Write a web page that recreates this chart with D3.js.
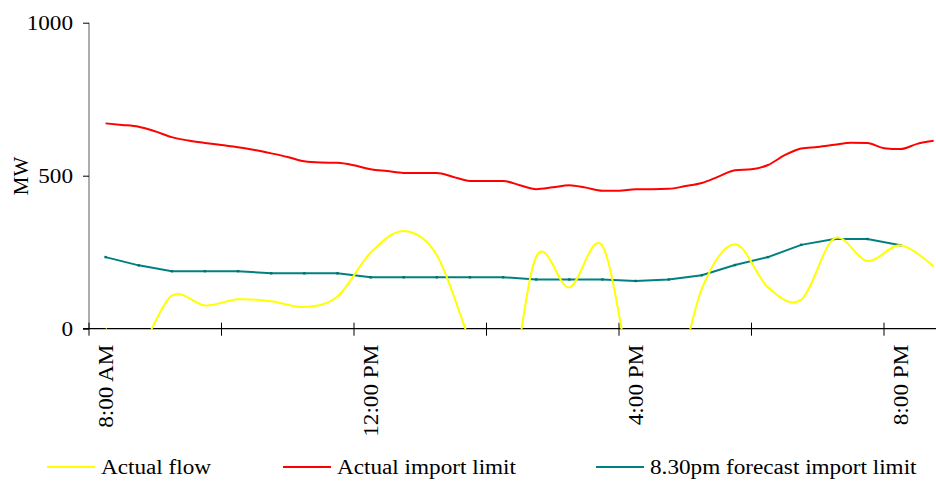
<!DOCTYPE html>
<html>
<head>
<meta charset="utf-8">
<script src="https://cdn.jsdelivr.net/npm/d3@7/dist/d3.min.js"></script>
<style>
  html, body { margin: 0; padding: 0; background: #ffffff; }
  svg { display: block; }
  text { font-family: "Liberation Serif", "Times New Roman", serif; fill: #000; }
</style>
</head>
<body>
<svg id="chart" width="936" height="485"></svg>
<script>
// ---------- DATA ----------
const halfHourTimes = ["08:00","08:30","09:00","09:30","10:00","10:30","11:00","11:30","12:00","12:30","13:00","13:30","14:00","14:30","15:00","15:30","16:00","16:30","17:00","17:30","18:00","18:30","19:00","19:30","20:00","20:30"];
const quarterHourTimes = ["08:00","08:15","08:30","08:45","09:00","09:15","09:30","09:45","10:00","10:15","10:30","10:45","11:00","11:15","11:30","11:45","12:00","12:15","12:30","12:45","13:00","13:15","13:30","13:45","14:00","14:15","14:30","14:45","15:00","15:15","15:30","15:45","16:00","16:15","16:30","16:45","17:00","17:15","17:30","17:45","18:00","18:15","18:30","18:45","19:00","19:15","19:30","19:45","20:00","20:15","20:30"];

// Actual flow (MW), half-hourly
const actualFlow = [0, -60, 108, 76, 96, 90, 71, 105, 248, 319, 240, -40, -300, 235, 135, 270, -200, -250, 130, 276, 135, 95, 295, 221, 273, 203];
// Actual import limit (MW), quarter-hourly
const actualImportLimit = [671, 666, 660, 645, 626, 615, 607, 600, 593, 584, 573, 561, 547, 543, 542, 534, 521, 515, 509, 509, 509, 496, 483, 483, 483, 469, 456, 462, 469, 461, 451, 451, 456, 456, 457, 466, 476, 497, 518, 521, 535, 567, 589, 594, 601, 608, 607, 590, 587, 604, 614];
// 8.30pm forecast import limit (MW), half-hourly
const forecastImportLimit = [234, 207, 188, 188, 188, 181, 181, 181, 168, 168, 168, 168, 168, 161, 161, 161, 156, 161, 175, 208, 234, 274, 293, 293, 273, null];

const yTicks = [0, 500, 1000];
const xTickLabels = ["8:00 AM", "12:00 PM", "4:00 PM", "8:00 PM"];
const xTickLabelTimes = ["08:00", "12:00", "16:00", "20:00"];
const xTickMarkTimes = ["07:45", "09:45", "11:45", "13:45", "15:45", "17:45", "19:45", "21:45"];

const seriesNames = ["Actual flow", "Actual import limit", "8.30pm forecast import limit"];
const seriesColors = ["#FFFF00", "#FF0000", "#008080"];

// ---------- HELPERS ----------
const toHours = s => { const [h, m] = s.split(":").map(Number); return h + m / 60; };
const STRETCH = 1.16; // reference glyphs are horizontally widened

// ---------- SCALES ----------
const svg = d3.select("#chart");
const x = d3.scaleLinear().domain([toHours("07:45"), toHours("20:45")]).range([89, 950.25]);
const y = d3.scaleLinear().domain([0, 1000]).range([328.7, 22.7]);

svg.append("rect").attr("width", 936).attr("height", 485).attr("fill", "#fff");

// ---------- AXES ----------
const yAxis = svg.append("g").attr("transform", `translate(${x.range()[0]},0)`)
  .call(d3.axisLeft(y).tickValues(yTicks).tickSize(6).tickPadding(10).tickFormat(d3.format("d")));
yAxis.select(".domain").attr("stroke", "#808080").attr("stroke-width", 1.3).attr("d", `M0,${y(1000)}V${y(0)}`);
yAxis.selectAll(".tick line").attr("stroke", "#000").attr("stroke-width", 1);
yAxis.selectAll(".tick text").attr("font-size", 20).attr("font-family", "Liberation Serif")
  .attr("x", 0).attr("dy", "0.35em").attr("transform", `translate(-16,0) scale(${STRETCH},1)`);

const xAxisG = svg.append("g").attr("transform", `translate(0,${y(0)})`);
xAxisG.append("line").attr("x1", x.range()[0] - 6).attr("x2", 950).attr("y1", 0).attr("y2", 0)
  .attr("stroke", "#000").attr("stroke-width", 1.3);
xAxisG.selectAll("line.tk").data(xTickMarkTimes).enter().append("line").attr("class", "tk")
  .attr("x1", d => x(toHours(d))).attr("x2", d => x(toHours(d)))
  .attr("y1", -6).attr("y2", 7).attr("stroke", "#000").attr("stroke-width", 1);
xAxisG.selectAll("text.lbl").data(xTickLabels).enter().append("text").attr("class", "lbl")
  .attr("transform", (d, i) => `translate(${x(toHours(xTickLabelTimes[i]))},16) rotate(-90) scale(${STRETCH},1)`)
  .attr("text-anchor", "end").attr("dy", "0.35em").attr("font-size", 20).text(d => d);

svg.append("text").attr("transform", "translate(21,176) rotate(-90) scale(1.05,1)")
  .attr("text-anchor", "middle").attr("dy", "0.35em").attr("font-size", 20).text("MW");

// ---------- LINES ----------
const defs = svg.append("defs");
defs.append("clipPath").attr("id", "plotClip").append("rect")
  .attr("x", x.range()[0]).attr("y", 0).attr("width", 936 - x.range()[0]).attr("height", y(0) + 0.5);

const flowPts = halfHourTimes.map((t, i) => ({ t: toHours(t), v: actualFlow[i] }));
const limitPts = quarterHourTimes.map((t, i) => ({ t: toHours(t), v: actualImportLimit[i] }));
const fcPts = halfHourTimes.map((t, i) => ({ t: toHours(t), v: forecastImportLimit[i] })).filter(d => d.v != null);

const plot = svg.append("g").attr("clip-path", "url(#plotClip)");

plot.append("path").datum(limitPts)
  .attr("fill", "none").attr("stroke", seriesColors[1]).attr("stroke-width", 2)
  .attr("d", d3.line().x(d => x(d.t)).y(d => y(d.v)).curve(d3.curveMonotoneX));

plot.append("path").datum(fcPts)
  .attr("fill", "none").attr("stroke", seriesColors[2]).attr("stroke-width", 2)
  .attr("d", d3.line().x(d => x(d.t)).y(d => y(d.v)));
plot.selectAll("rect.fcm").data(fcPts).enter().append("rect").attr("class", "fcm")
  .attr("x", d => x(d.t) - 1.2).attr("y", d => y(d.v) - 1.2).attr("width", 2.4).attr("height", 2.4)
  .attr("fill", "#007070");

plot.append("path").datum(flowPts)
  .attr("fill", "none").attr("stroke", seriesColors[0]).attr("stroke-width", 2)
  .attr("d", d3.line().x(d => x(d.t)).y(d => y(d.v)).curve(d3.curveCardinal.tension(0)));

// ---------- LEGEND ----------
const legendX = [47, 283, 596];
const leg = svg.append("g");
seriesNames.forEach((name, i) => {
  leg.append("line").attr("x1", legendX[i]).attr("x2", legendX[i] + 48).attr("y1", 467).attr("y2", 467)
    .attr("stroke", seriesColors[i]).attr("stroke-width", 2);
  leg.append("text").attr("transform", `translate(${legendX[i] + 54},467) scale(${STRETCH},1)`)
    .attr("dy", "0.35em").attr("font-size", 20).text(name);
});
</script>
</body>
</html>
